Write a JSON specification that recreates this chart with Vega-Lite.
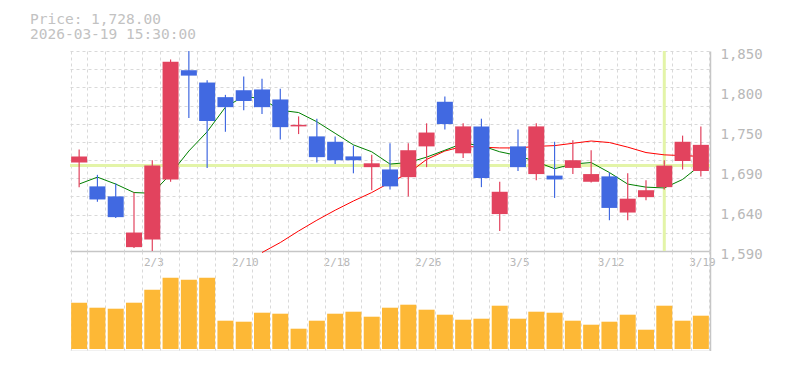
{
  "$schema": "https://vega.github.io/schema/vega-lite/v6.json",
  "autosize": {"type": "pad"},
  "padding": {"left": 30, "top": 12, "right": 0, "bottom": 0},
  "background": "white",
  "spacing": 0,
  "bounds": "flush",
  "title": {
    "text": ["Price: 1,728.00", "2026-03-19 15:30:00"],
    "anchor": "start",
    "frame": "group",
    "orient": "top",
    "font": "DejaVu Sans Mono",
    "fontSize": 14.5,
    "fontWeight": "normal",
    "color": "#c2c2c2",
    "lineHeight": 15,
    "baseline": "alphabetic",
    "offset": 12.5,
    "dx": -40,
    "dy": 19
  },
  "config": {
    "view": {"stroke": null},
    "axis": {"labelFont": "DejaVu Sans Mono", "titleFont": "DejaVu Sans Mono"}
  },
  "datasets": {
    "ohlc": [
      {"i": 0, "date": "1/28", "open": 1705, "high": 1722, "low": 1673, "close": 1713, "ma5": 1677, "ma25": null, "volume": 463000},
      {"i": 1, "date": "1/29", "open": 1674, "high": 1689, "low": 1654, "close": 1657, "ma5": 1686, "ma25": null, "volume": 413000},
      {"i": 2, "date": "1/30", "open": 1661, "high": 1678, "low": 1633, "close": 1634, "ma5": 1677, "ma25": null, "volume": 403000},
      {"i": 3, "date": "2/2", "open": 1595, "high": 1666, "low": 1594, "close": 1614, "ma5": 1666, "ma25": null, "volume": 463000},
      {"i": 4, "date": "2/3", "open": 1605, "high": 1708, "low": 1590, "close": 1701, "ma5": 1665, "ma25": null, "volume": 593000},
      {"i": 5, "date": "2/4", "open": 1683, "high": 1839, "low": 1680, "close": 1836, "ma5": 1690, "ma25": null, "volume": 713000},
      {"i": 6, "date": "2/5", "open": 1825, "high": 1850, "low": 1763, "close": 1818, "ma5": 1720, "ma25": null, "volume": 693000},
      {"i": 7, "date": "2/6", "open": 1809, "high": 1812, "low": 1698, "close": 1759, "ma5": 1745, "ma25": null, "volume": 713000},
      {"i": 8, "date": "2/9", "open": 1790, "high": 1793, "low": 1745, "close": 1777, "ma5": 1777, "ma25": null, "volume": 283000},
      {"i": 9, "date": "2/10", "open": 1799, "high": 1817, "low": 1773, "close": 1785, "ma5": 1791, "ma25": null, "volume": 273000},
      {"i": 10, "date": "2/12", "open": 1800, "high": 1814, "low": 1768, "close": 1777, "ma5": 1788, "ma25": 1588, "volume": 363000},
      {"i": 11, "date": "2/13", "open": 1787, "high": 1801, "low": 1735, "close": 1751, "ma5": 1773, "ma25": 1601, "volume": 353000},
      {"i": 12, "date": "2/16", "open": 1752, "high": 1765, "low": 1742, "close": 1754, "ma5": 1770, "ma25": 1616, "volume": 203000},
      {"i": 13, "date": "2/17", "open": 1739, "high": 1762, "low": 1705, "close": 1712, "ma5": 1758, "ma25": 1630, "volume": 283000},
      {"i": 14, "date": "2/18", "open": 1732, "high": 1739, "low": 1703, "close": 1708, "ma5": 1743, "ma25": 1643, "volume": 353000},
      {"i": 15, "date": "2/19", "open": 1713, "high": 1727, "low": 1691, "close": 1708, "ma5": 1728, "ma25": 1655, "volume": 373000},
      {"i": 16, "date": "2/20", "open": 1699, "high": 1715, "low": 1669, "close": 1704, "ma5": 1719, "ma25": 1666, "volume": 323000},
      {"i": 17, "date": "2/24", "open": 1696, "high": 1730, "low": 1670, "close": 1674, "ma5": 1703, "ma25": 1679, "volume": 413000},
      {"i": 18, "date": "2/25", "open": 1686, "high": 1730, "low": 1661, "close": 1721, "ma5": 1705, "ma25": 1691, "volume": 443000},
      {"i": 19, "date": "2/26", "open": 1726, "high": 1756, "low": 1699, "close": 1744, "ma5": 1712, "ma25": 1709, "volume": 393000},
      {"i": 20, "date": "2/27", "open": 1784, "high": 1791, "low": 1748, "close": 1755, "ma5": 1721, "ma25": 1720, "volume": 343000},
      {"i": 21, "date": "3/2", "open": 1717, "high": 1756, "low": 1711, "close": 1752, "ma5": 1730, "ma25": 1726, "volume": 293000},
      {"i": 22, "date": "3/3", "open": 1752, "high": 1762, "low": 1673, "close": 1685, "ma5": 1727, "ma25": 1725, "volume": 303000},
      {"i": 23, "date": "3/4", "open": 1638, "high": 1680, "low": 1616, "close": 1667, "ma5": 1719, "ma25": 1724, "volume": 433000},
      {"i": 24, "date": "3/5", "open": 1726, "high": 1748, "low": 1694, "close": 1699, "ma5": 1714, "ma25": 1724, "volume": 303000},
      {"i": 25, "date": "3/6", "open": 1690, "high": 1756, "low": 1682, "close": 1752, "ma5": 1706, "ma25": 1726, "volume": 373000},
      {"i": 26, "date": "3/9", "open": 1688, "high": 1732, "low": 1659, "close": 1683, "ma5": 1697, "ma25": 1727, "volume": 363000},
      {"i": 27, "date": "3/10", "open": 1698, "high": 1734, "low": 1690, "close": 1708, "ma5": 1703, "ma25": 1730, "volume": 283000},
      {"i": 28, "date": "3/11", "open": 1680, "high": 1721, "low": 1679, "close": 1690, "ma5": 1705, "ma25": 1733, "volume": 243000},
      {"i": 29, "date": "3/12", "open": 1687, "high": 1692, "low": 1630, "close": 1646, "ma5": 1692, "ma25": 1731, "volume": 273000},
      {"i": 30, "date": "3/13", "open": 1640, "high": 1691, "low": 1630, "close": 1658, "ma5": 1677, "ma25": 1725, "volume": 343000},
      {"i": 31, "date": "3/16", "open": 1660, "high": 1682, "low": 1656, "close": 1669, "ma5": 1673, "ma25": 1718, "volume": 193000},
      {"i": 32, "date": "3/17", "open": 1673, "high": 1708, "low": 1670, "close": 1701, "ma5": 1672, "ma25": 1715, "volume": 433000},
      {"i": 33, "date": "3/18", "open": 1707, "high": 1740, "low": 1696, "close": 1732, "ma5": 1683, "ma25": 1714, "volume": 283000},
      {"i": 34, "date": "3/19", "open": 1694, "high": 1752, "low": 1687, "close": 1728, "ma5": 1702, "ma25": 1713, "volume": 333000}
    ],
    "cursor": [{"date": "3/17", "price": 1701}]
  },
  "vconcat": [
    {
      "width": 640,
      "height": 200,
      "data": {"name": "ohlc"},
      "layer": [
        {
          "data": {"name": "cursor"},
          "mark": {"type": "rule", "color": "#e3f4a8", "strokeWidth": 3},
          "encoding": {
            "x": {"field": "date", "type": "ordinal", "sort": null,
              "scale": {"domain": ["1/28","1/29","1/30","2/2","2/3","2/4","2/5","2/6","2/9","2/10","2/12","2/13","2/16","2/17","2/18","2/19","2/20","2/24","2/25","2/26","2/27","3/2","3/3","3/4","3/5","3/6","3/9","3/10","3/11","3/12","3/13","3/16","3/17","3/18","3/19"], "paddingInner": 0.125, "paddingOuter": 0.0625},
              "axis": {"orient": "bottom", "tickBand": "extent", "tickOffset": -1.14, "labelOffset": 1.14,
                "labelExpr": "indexof(['2/3','2/10','2/18','2/26','3/5','3/12','3/19'], datum.value) >= 0 ? datum.value : ''",
                "grid": true, "gridColor": "#d9d9d9", "gridDash": [3, 3], "gridWidth": 1,
                "ticks": false, "domain": true, "domainColor": "#c6c6c6", "domainWidth": 1.5, "labelAngle": 0,
                "labelColor": "#b8b8b8", "labelFont": "DejaVu Sans Mono", "labelFontSize": 11, "labelBaseline": "top", "labelPadding": 5,
                "labelFlush": false, "labelOverlap": false, "title": null}},
            "y": {"datum": 1850, "type": "quantitative", "scale": {"domain": [1590, 1850], "nice": false, "zero": false},
              "axis": {"orient": "right", "values": [1590, 1642, 1694, 1746, 1798, 1850],
                "labelExpr": "format(round(datum.value/10)*10, ',')",
                "grid": false, "ticks": false, "domain": true, "domainColor": "#c6c6c6", "domainWidth": 1.5,
                "labelColor": "#b8b8b8", "labelFont": "DejaVu Sans Mono", "labelFontSize": 14, "labelPadding": 10,
                "labelBaseline": "middle", "labelOffset": 3, "labelFlush": false, "labelOverlap": false, "title": null}},
            "y2": {"datum": 1590}
          }
        },
        {
          "data": {"name": "cursor"},
          "mark": {"type": "rule", "color": "#e3f4a8", "strokeWidth": 3},
          "encoding": {
            "y": {"field": "price", "type": "quantitative", "scale": {"domain": [1590, 1850], "nice": false, "zero": false},
              "axis": {"orient": "left", "values": [1590, 1613.636, 1637.273, 1660.909, 1684.545, 1708.182, 1731.818, 1755.455, 1779.091, 1802.727, 1826.364, 1850],
                "labels": false, "ticks": false, "domain": false, "grid": true, "gridColor": "#d9d9d9", "gridDash": [3, 3], "gridWidth": 1, "title": null}}
          }
        },
        {
          "transform": [{"filter": "datum.ma25 != null"}],
          "mark": {"type": "line", "color": "#ff0000", "strokeWidth": 1},
          "encoding": {
            "x": {"field": "date", "type": "ordinal", "sort": null},
            "y": {"field": "ma25", "type": "quantitative", "scale": {"domain": [1590, 1850], "nice": false, "zero": false}, "axis": null}
          }
        },
        {
          "mark": {"type": "line", "color": "#008000", "strokeWidth": 1},
          "encoding": {
            "x": {"field": "date", "type": "ordinal", "sort": null},
            "y": {"field": "ma5", "type": "quantitative", "scale": {"domain": [1590, 1850], "nice": false, "zero": false}, "axis": null}
          }
        },
        {
          "mark": {"type": "rule", "strokeWidth": 1.2},
          "encoding": {
            "x": {"field": "date", "type": "ordinal", "sort": null},
            "y": {"field": "low", "type": "quantitative", "scale": {"domain": [1590, 1850], "nice": false, "zero": false}, "axis": null},
            "y2": {"field": "high"},
            "color": {"condition": {"test": "datum.close >= datum.open", "value": "#e2435e"}, "value": "#4169e1"}
          }
        },
        {
          "mark": {"type": "bar"},
          "encoding": {
            "x": {"field": "date", "type": "ordinal", "sort": null},
            "y": {"field": "open", "type": "quantitative", "scale": {"domain": [1590, 1850], "nice": false, "zero": false}, "axis": null},
            "y2": {"field": "close"},
            "color": {"condition": {"test": "datum.close >= datum.open", "value": "#e2435e"}, "value": "#4169e1"}
          }
        }
      ],
      "resolve": {"axis": {"y": "independent"}}
    },
    {
      "width": 640,
      "height": 100,
      "data": {"name": "ohlc"},
      "mark": {"type": "bar", "color": "#fdb836"},
      "encoding": {
        "x": {"field": "date", "type": "ordinal", "sort": null,
          "scale": {"domain": ["1/28","1/29","1/30","2/2","2/3","2/4","2/5","2/6","2/9","2/10","2/12","2/13","2/16","2/17","2/18","2/19","2/20","2/24","2/25","2/26","2/27","3/2","3/3","3/4","3/5","3/6","3/9","3/10","3/11","3/12","3/13","3/16","3/17","3/18","3/19"], "paddingInner": 0.125, "paddingOuter": 0.0625},
          "axis": {"orient": "bottom", "tickBand": "extent", "tickOffset": -1.14, "labels": false, "ticks": false,
            "grid": true, "gridColor": "#d9d9d9", "gridDash": [3, 3], "gridWidth": 1,
            "domain": true, "domainColor": "#c6c6c6", "domainWidth": 1.5, "title": null}},
        "y": {"field": "volume", "type": "quantitative", "scale": {"domain": [-20000, 980000], "nice": false, "zero": false},
          "axis": {"orient": "right", "values": [-20000, 980000], "labels": false, "ticks": false, "grid": false,
            "domain": true, "domainColor": "#c6c6c6", "domainWidth": 1.5, "title": null}}
      }
    }
  ]
}
